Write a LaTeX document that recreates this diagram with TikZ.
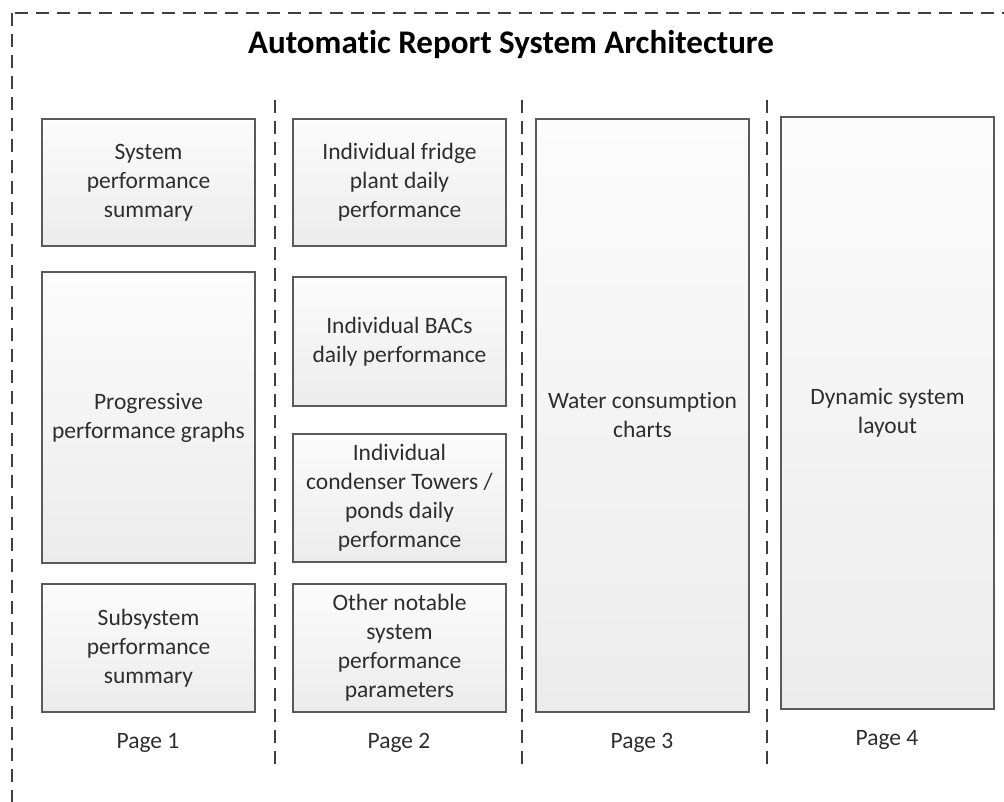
\documentclass[tikz,border=0pt]{standalone}
\usepackage{fontspec}
\setmainfont{Carlito}[Ligatures=NoCommon]
\definecolor{framegray}{HTML}{3F3F3F}
\definecolor{boxedge}{HTML}{5A5A5A}
\definecolor{boxtext}{HTML}{2E2E2E}
\definecolor{boxtop}{HTML}{FCFCFC}
\definecolor{boxbottom}{HTML}{ECECEC}
\tikzset{
  pagebox/.style={draw=boxedge, line width=1.4pt, top color=boxtop, bottom color=boxbottom,
    inner sep=0pt, align=center, text=boxtext,
    font=\fontsize{23.5}{29}\selectfont},
  divider/.style={draw=framegray, line width=1.2pt, dash pattern=on 13pt off 8pt},
  pagelabel/.style={text=boxtext, font=\fontsize{23.5}{29}\selectfont},
  titletext/.style={font=\fontsize{33}{39}\selectfont\bfseries, text=black}
}
\begin{document}
\begin{tikzpicture}[x=1pt, y=-1pt]
  \useasboundingbox (0,0) rectangle (1004,802);
  \clip (0,0) rectangle (1004,802);
  % outer dashed frame, running past the right and bottom edges
  \draw[divider] (12,13) rectangle (1030,830);
  \node[titletext] (title) at (511,45) {Automatic Report System Architecture};

  % column dividers
  \coordinate (d1t) at (275,100); \coordinate (d1b) at (275,764);
  \coordinate (d2t) at (522,100); \coordinate (d2b) at (522,764);
  \coordinate (d3t) at (767,100); \coordinate (d3b) at (767,764);
  \draw[divider] (d1t) -- (d1b);
  \draw[divider] (d2t) -- (d2b);
  \draw[divider] (d3t) -- (d3b);

  % Page 1
  \node[pagebox, minimum width=213pt, minimum height=127pt] (p1a) at (148.5,182.5)
    {System\\performance\\summary};
  \node[pagebox, minimum width=213pt, minimum height=291pt] (p1b) at (148.5,417.5)
    {Progressive\\performance graphs};
  \node[pagebox, minimum width=213pt, minimum height=128pt] (p1c) at (148.5,648)
    {Subsystem\\performance\\summary};
  \node[pagelabel] (l1) at (148,743) {Page 1};

  % Page 2
  \node[pagebox, minimum width=213pt, minimum height=127pt] (p2a) at (399.5,182.5)
    {Individual fridge\\plant daily\\performance};
  \node[pagebox, minimum width=213pt, minimum height=129pt] (p2b) at (399.5,341.5)
    {Individual BACs\\daily performance};
  \node[pagebox, minimum width=213pt, minimum height=128pt] (p2c) at (399.5,498)
    {Individual\\condenser Towers /\\ponds daily\\performance};
  \node[pagebox, minimum width=213pt, minimum height=128pt] (p2d) at (399.5,648)
    {Other notable\\system\\performance\\parameters};
  \node[pagelabel] (l2) at (399,743) {Page 2};

  % Page 3
  \node[pagebox, minimum width=213pt, minimum height=593pt] (p3) at (642.5,415.5)
    {Water consumption\\charts};
  \node[pagelabel] (l3) at (642,743) {Page 3};

  % Page 4
  \node[pagebox, minimum width=213pt, minimum height=592pt] (p4) at (887.5,413)
    {Dynamic system\\layout};
  \node[pagelabel] (l4) at (887,740) {Page 4};
\end{tikzpicture}
\end{document}
